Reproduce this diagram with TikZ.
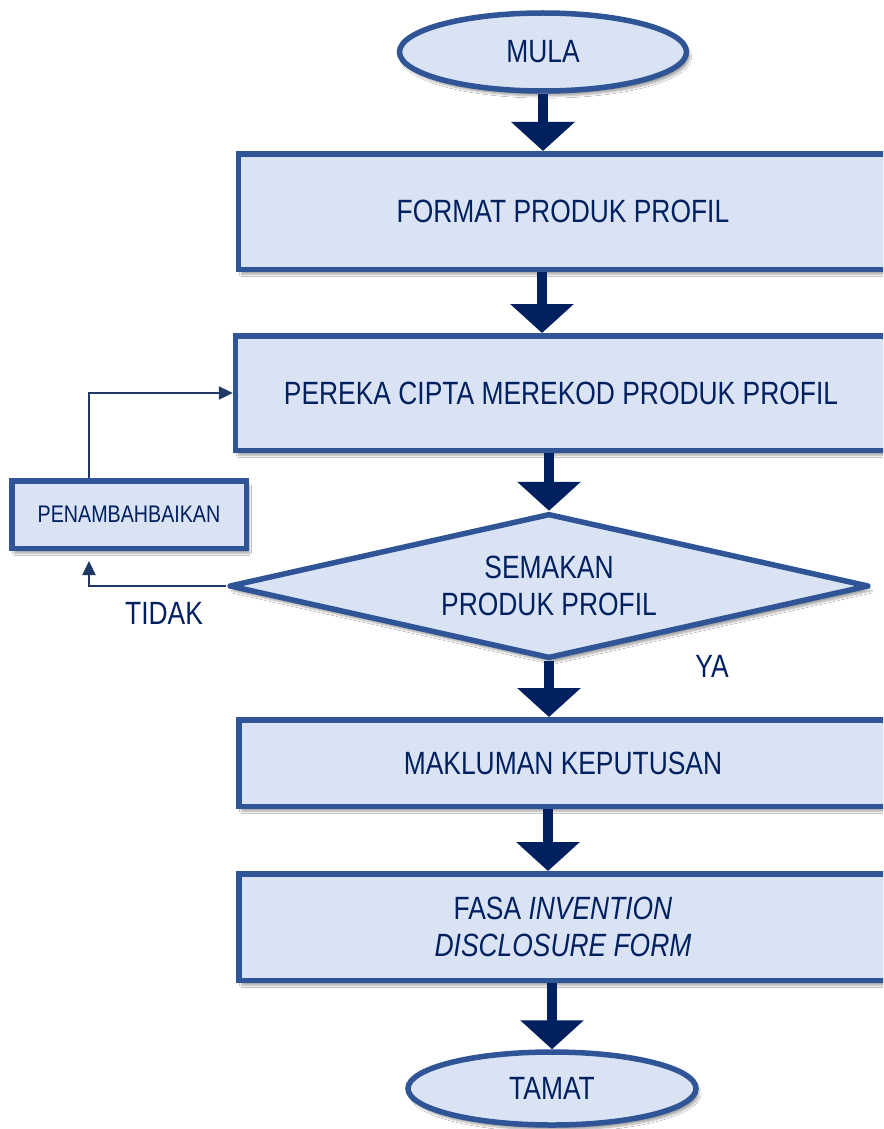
\documentclass[tikz,border=0pt]{standalone}
\usepackage{fontspec}
\setmainfont{Liberation Sans}[FakeStretch=0.82]
\usetikzlibrary{shapes.geometric,arrows.meta,shadows.blur}
\definecolor{fillc}{HTML}{DAE3F3}
\definecolor{edgec}{HTML}{2F5597}
\definecolor{navy}{HTML}{002060}
\definecolor{connc}{HTML}{203864}
\begin{document}
\begin{tikzpicture}[x=1pt,y=1pt,
  shapebase/.style={draw=edgec, fill=fillc, line width=5.5pt, text=navy,
    font=\fontsize{32.2}{37}\selectfont,
    blur shadow={shadow xshift=3pt, shadow yshift=-5pt, shadow opacity=35, shadow blur steps=6}},
  procbox/.style={shapebase, rectangle, inner sep=0pt, align=center},
  term/.style={shapebase, ellipse, inner sep=0pt},
  decision/.style={shapebase, diamond, aspect=4.4, inner sep=0pt, align=center, line join=round},
  bigarrow/.style={navy, line width=9.5pt, -{Triangle[width=62pt,length=29pt]}},
  conn/.style={connc, line width=2.4pt, -{Triangle[width=13pt,length=14pt]}},
  lbl/.style={text=navy, font=\fontsize{32.2}{37}\selectfont}
]
\useasboundingbox (0,0) rectangle (883,-1129);
\clip (0,0) rectangle (883,-1129);
\fill[white] (0,0) rectangle (883,-1129);

\node[term, minimum width=287pt, minimum height=78pt] (mula) at (543,-52) {MULA};
\node[procbox, minimum width=649pt, minimum height=115.5pt] (fmt) at (563,-211.5) {FORMAT PRODUK PROFIL};
\node[procbox, minimum width=651pt, minimum height=114.5pt] (pre) at (561,-393) {PEREKA CIPTA MEREKOD PRODUK PROFIL};
\node[decision, minimum width=640pt, minimum height=145pt] (dia) at (549,-586) {SEMAKAN\\PRODUK PROFIL};
\node[procbox, minimum width=234.5pt, minimum height=67.5pt, font=\fontsize{24}{28}\selectfont] (pen) at (129,-514.5) {PENAMBAHBAIKAN};
\node[procbox, minimum width=648.5pt, minimum height=86.5pt] (mak) at (563,-763) {MAKLUMAN KEPUTUSAN};
\node[procbox, minimum width=648.5pt, minimum height=106.5pt] (fasa) at (563,-927) {FASA \textit{INVENTION}\\\textit{DISCLOSURE FORM}};
\node[term, minimum width=288pt, minimum height=73pt] (tamat) at (552,-1088.5) {TAMAT};

\node[lbl] (tidak) at (164,-613) {TIDAK};
\node[lbl] (ya) at (712,-666) {YA};

\draw[bigarrow] (mula.south) -- (mula.south |- fmt.north);
\draw[bigarrow] ([xshift=-21pt]fmt.south) -- ([xshift=-21pt]fmt.south |- pre.north);
\draw[bigarrow] ([xshift=-12pt]pre.south) -- (dia.north);
\draw[bigarrow] (dia.south) -- (dia.south |- mak.north);
\draw[bigarrow] ([xshift=-15pt]mak.south) -- ([xshift=-15pt]mak.south |- fasa.north);
\draw[bigarrow] (tamat.north |- fasa.south) -- (tamat.north);

\coordinate (tidakend) at ([xshift=-40pt,yshift=-10pt]pen.south);
\draw[conn] (dia.west) -| (tidakend);
\draw[conn] ([xshift=-40pt]pen.north) |- (pre.west);
\end{tikzpicture}
\end{document}
